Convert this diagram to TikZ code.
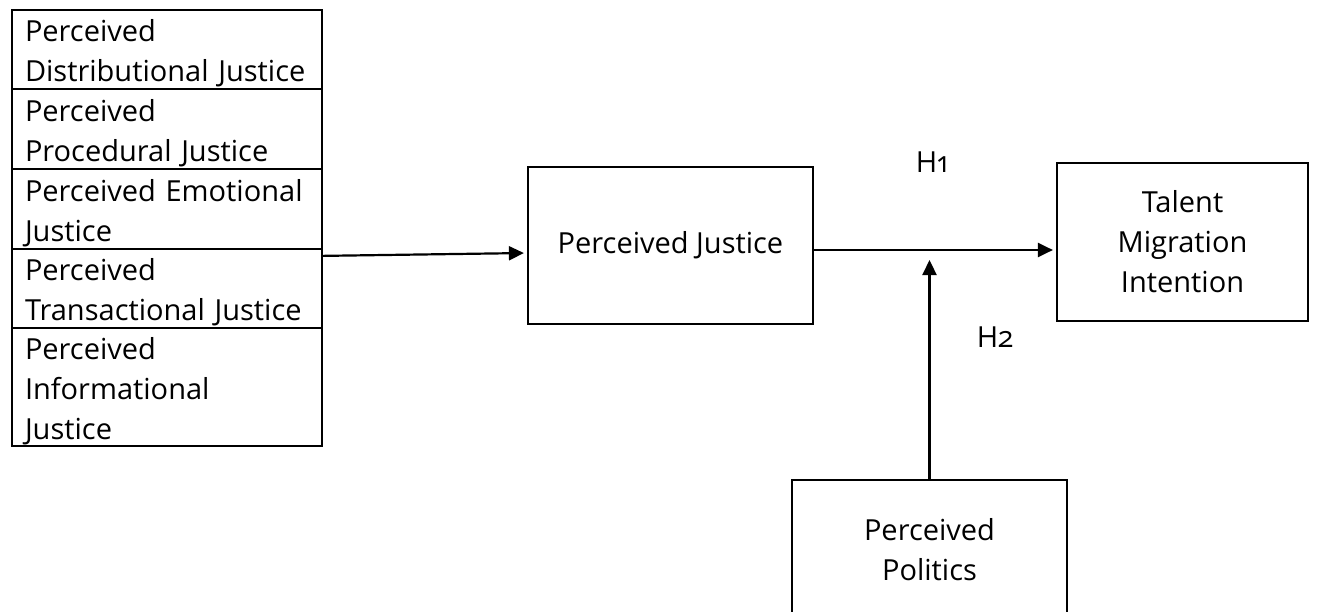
\documentclass[tikz,border=0pt]{standalone}
\usepackage{fontspec}
\setmainfont{Open Sans}[Numbers=OldStyle]
\usetikzlibrary{arrows.meta,calc}
\newcommand{\topstrut}{\rule{0pt}{30pt}}
\begin{document}
\begin{tikzpicture}[x=1pt,y=-1pt,
  every node/.style={font=\fontsize{29}{40}\selectfont},
  cell/.style={draw,line width=2.2pt,minimum width=310pt,text width=284pt,inner xsep=13pt,inner ysep=0pt,align=left,anchor=center},
  box/.style={draw,line width=2.2pt,align=center,inner sep=0pt},
  arr/.style={line width=2.2pt,-{Triangle[length=15pt,width=14pt]},shorten >=3pt},
  lbl/.style={inner sep=0pt}]
\useasboundingbox (0,0) rectangle (1319,612);
\clip (0,0) rectangle (1319,612);
\node[cell,minimum height=79pt] (c1) at (167,49.5) {\topstrut Perceived\\Distributional Justice};
\node[cell,minimum height=80pt] (c2) at (167,129) {\topstrut Perceived\\Procedural Justice};
\node[cell,minimum height=80pt] (c3) at (167,209) {\topstrut Perceived Emotional\\Justice};
\node[cell,minimum height=79pt] (c4) at (167,288.5) {\topstrut Perceived\\Transactional Justice};
\node[cell,minimum height=118pt] (c5) at (167,387) {\topstrut Perceived\\Informational\\Justice};
\node[box,minimum width=285pt,minimum height=157pt] (pj) at (670.5,245.5) {Perceived Justice};
\node[box,minimum width=251pt,minimum height=158pt] (tm) at (1182.5,242) {Talent\\Migration\\Intention};
\node[box,minimum width=275pt,minimum height=140pt] (pp) at (929.5,550) {Perceived\\Politics};
\node[lbl] (h1) at (932,162) {H1};
\node[lbl] (h2) at (995,337) {H2};
\coordinate (s1) at ($(c4.north east)+(-2,8)$);
\draw[arr] (s1) -- ([yshift=-7.5pt]pj.west);
\coordinate (s2) at ([yshift=-4.5pt]pj.east);
\draw[arr] (s2) -- (s2 -| tm.west);
\coordinate (mt) at ($(s2 -| pp.north)+(0,10)$);
\draw[arr,shorten >=0pt] (pp.north) -- (mt);
\end{tikzpicture}
\end{document}
